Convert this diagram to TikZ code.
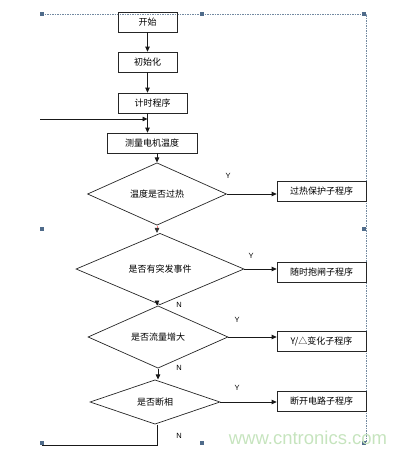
\documentclass[tikz,border=0pt]{standalone}
\usepackage{fontspec}
\setmainfont{Liberation Sans}
\newfontfamily\cjk{Noto Sans CJK SC}
\usetikzlibrary{shapes.geometric,arrows.meta,calc}
\definecolor{handle}{HTML}{4F6B8A}
\definecolor{wm}{HTML}{C6E4BE}
\begin{document}
\begin{tikzpicture}[x=1pt,y=-1pt,
  box/.style={draw=black!85, line width=0.7pt, minimum height=20pt, inner sep=0pt,
    font=\cjk\fontsize{9}{10}\selectfont},
  dia/.style={diamond, draw=black!85, line width=0.7pt, inner sep=0pt,
    font=\cjk\fontsize{9}{10}\selectfont},
  arr/.style={-{Triangle[length=5pt,width=4.5pt]}, line width=0.8pt, draw=black!90},
  lbl/.style={font=\fontsize{7.5}{8}\selectfont, inner sep=0pt},
  hdl/.style={fill=handle, draw=none, minimum size=3.5pt, inner sep=0pt},
  sel/.style={draw=handle!80, dashed, line width=0.5pt, dash pattern=on 1.5pt off 1pt}]
\useasboundingbox (0,0) rectangle (410,455);

% selection frame
\coordinate (s1) at (42,14);
\coordinate (s2) at (366,14);
\coordinate (s3) at (366,443);
\draw[sel] (s1) -- (s2) -- (s3);
\foreach \n/\x/\y in {h1/42/14,h2/202/14,h3/364/14,h4/42/229,h5/364/229,h6/42/443,h7/202/443,h8/364/443}
  \node[hdl] (\n) at (\x,\y) {};

% main column
\node[box, minimum width=59pt] (start) at (147.5,22) {开始};
\node[box, minimum width=59pt] (init) at (147.5,62) {初始化};
\node[box, minimum width=69pt] (timer) at (152.5,103) {计时程序};
\node[box, minimum width=90pt] (meas) at (152,143) {测量电机温度};

\node[dia, minimum width=139pt, minimum height=40pt] (d1) at (157,194) {温度是否过热};
\node[dia, minimum width=168pt, minimum height=40pt] (d2) at (160,269) {是否有突发事件};
\node[dia, minimum width=140pt, minimum height=40pt] (d3) at (158,337) {是否流量增大};
\node[dia, minimum width=130pt, minimum height=34pt] (d4) at (155,402) {是否断相};

% side boxes
\node[box, minimum width=89pt] (b1) at (321.5,191) {过热保护子程序};
\node[box, minimum width=89pt] (b2) at (321.5,272) {随时抱闸子程序};
\node[box, minimum width=89pt] (b3) at (321.5,341) {Y/△变化子程序};
\node[box, minimum width=89pt] (b4) at (321.5,401.5) {断开电路子程序};

% vertical connectors
\draw[arr] (start) -- (init);
\draw[arr] (init) -- (init.south |- timer.north);
\draw[arr] (timer.south -| init.south) -- (init.south |- meas.north);
\draw[arr] (d1.north |- meas.south) -- (d1.north);
\draw[line width=0.8pt, draw=red!55, dash pattern=on 3pt off 2pt, -{Triangle[length=5pt,width=4.5pt,color=black!80]}] (d1.south) -- (d1.south |- d2.north);
\draw[arr] (d1.south |- d2.south) -- (d1.south |- d3.north);
\draw[arr] (d3.south) -- (d3.south |- d4.north);

% loop
\coordinate (loopin) at (40,119);
\coordinate (loopout) at (42,445);
\draw[arr] (loopin) -- (loopin -| init.south);
\draw[line width=0.8pt, draw=black!90] (d4.south -| d1.south) -- (d1.south |- loopout) -- (loopout);

% yes branches
\draw[arr] (d1.east) -- (d1.east -| b1.west);
\draw[arr] (d2.east) -- (d2.east -| b2.west);
\draw[arr] (d3.east) -- (d3.east -| b3.west);
\draw[arr] (d4.east) -- (d4.east -| b4.west);

% labels
\node[lbl] (y1) at (228,176) {Y};
\node[lbl] (y2) at (251,256) {Y};
\node[lbl] (y3) at (237,320) {Y};
\node[lbl] (y4) at (237,388) {Y};
\node[lbl] (n1) at (179,305) {N};
\node[lbl] (n2) at (179,368) {N};
\node[lbl] (n3) at (179,436) {N};

% watermark
\node[text=wm, font=\fontsize{18.5}{20}\selectfont, inner sep=0pt] (wmk) at (308,438) {www.cntronics.com};
\end{tikzpicture}
\end{document}
